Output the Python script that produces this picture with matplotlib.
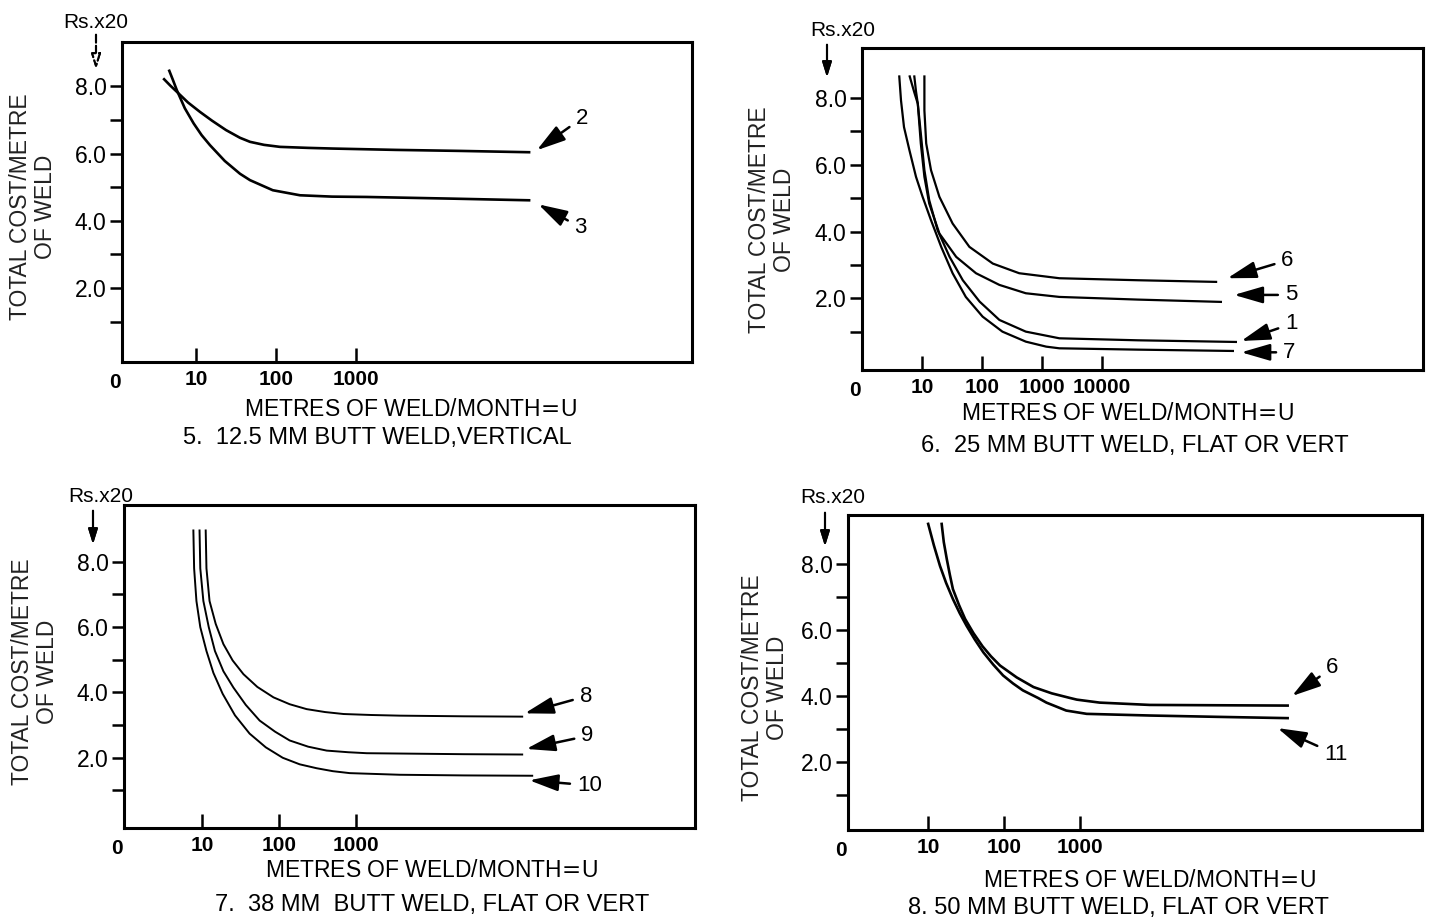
import numpy as np
import matplotlib.pyplot as plt

W, H = 1432, 922
plt.rcParams['font.family'] = ['Liberation Sans', 'DejaVu Sans']

# x = log10(metres of weld per month), y = total cost per metre (Rs x20)
# --- fig 5: 12.5 mm butt weld, vertical
f5_c2_x = [0.59, 0.68, 0.76, 0.9, 1.05, 1.2, 1.375, 1.55, 1.675, 1.85, 2.05, 2.4, 2.71, 3.5, 4.3, 5.18]
f5_c2_y = [8.24, 8.02, 7.84, 7.52, 7.24, 6.98, 6.70, 6.47, 6.35, 6.26, 6.20, 6.17, 6.15, 6.11, 6.08, 6.04]
f5_c3_x = [0.66, 0.71, 0.76, 0.86, 0.97, 1.07, 1.175, 1.36, 1.55, 1.675, 1.96, 2.3, 2.7, 3.13, 4.2, 5.18]
f5_c3_y = [8.5, 8.2, 7.89, 7.35, 6.9, 6.55, 6.25, 5.78, 5.4, 5.21, 4.91, 4.76, 4.72, 4.71, 4.66, 4.61]

# --- fig 6: 25 mm butt weld, flat or vert
f6_c7_x = [0.62, 0.65, 0.70, 0.79, 0.90, 1.01, 1.15, 1.32, 1.51, 1.73, 2.01, 2.34, 2.73, 3.07, 3.29, 4.6, 6.2]
f6_c7_y = [8.68, 7.93, 7.13, 6.44, 5.64, 5.04, 4.34, 3.54, 2.75, 2.04, 1.45, 1.0, 0.70, 0.55, 0.50, 0.46, 0.42]
f6_c1_x = [0.79, 0.87, 0.93, 0.98, 1.04, 1.12, 1.26, 1.46, 1.68, 1.96, 2.29, 2.73, 3.29, 4.6, 6.25]
f6_c1_y = [8.68, 8.18, 7.83, 6.94, 5.84, 4.94, 4.04, 3.24, 2.54, 1.90, 1.35, 1.0, 0.80, 0.74, 0.69]
f6_c5_x = [0.87, 0.90, 0.93, 0.98, 1.04, 1.12, 1.29, 1.57, 1.90, 2.29, 2.73, 3.29, 4.6, 6.0]
f6_c5_y = [8.68, 8.2, 7.83, 6.64, 5.64, 4.84, 3.94, 3.24, 2.75, 2.40, 2.15, 2.04, 1.96, 1.89]
f6_c6_x = [1.04, 1.04, 1.07, 1.15, 1.29, 1.51, 1.79, 2.18, 2.62, 3.29, 4.6, 5.92]
f6_c6_y = [8.68, 7.63, 6.64, 5.84, 5.04, 4.24, 3.54, 3.04, 2.75, 2.60, 2.54, 2.49]

# --- fig 7: 38 mm butt weld, flat or vert
f7_c8_x = [1.05, 1.06, 1.10, 1.18, 1.28, 1.40, 1.54, 1.72, 1.93, 2.14, 2.36, 2.6, 2.84, 3.2, 3.57, 4.4, 5.17]
f7_c8_y = [8.99, 7.8, 6.8, 6.1, 5.48, 4.98, 4.56, 4.17, 3.85, 3.64, 3.49, 3.40, 3.34, 3.31, 3.29, 3.27, 3.26]
f7_c9_x = [0.97, 0.98, 1.02, 1.09, 1.17, 1.28, 1.41, 1.57, 1.75, 1.95, 2.14, 2.38, 2.62, 2.9, 3.14, 3.57, 4.4, 5.17]
f7_c9_y = [8.99, 7.8, 6.8, 6.0, 5.27, 4.65, 4.15, 3.62, 3.14, 2.80, 2.53, 2.34, 2.22, 2.17, 2.14, 2.13, 2.11, 2.10]
f7_c10_x = [0.89, 0.90, 0.93, 0.98, 1.06, 1.15, 1.27, 1.43, 1.62, 1.83, 2.05, 2.27, 2.49, 2.7, 2.92, 3.57, 4.4, 5.30]
f7_c10_y = [8.99, 7.8, 6.8, 6.0, 5.27, 4.6, 3.96, 3.3, 2.74, 2.32, 2.0, 1.80, 1.68, 1.59, 1.53, 1.48, 1.46, 1.45]

# --- fig 8: 50 mm butt weld, flat or vert
f8_c11_x = [1.0, 1.08, 1.16, 1.24, 1.33, 1.42, 1.51, 1.62, 1.73, 1.86, 1.99, 2.12, 2.25, 2.45, 2.56, 2.82, 3.09, 3.92, 4.8, 5.75]
f8_c11_y = [9.24, 8.55, 7.93, 7.42, 6.93, 6.5, 6.12, 5.7, 5.32, 4.95, 4.62, 4.38, 4.17, 3.94, 3.8, 3.56, 3.46, 3.41, 3.37, 3.33]
f8_c6_x = [1.18, 1.21, 1.25, 1.29, 1.33, 1.41, 1.49, 1.6, 1.72, 1.83, 1.95, 2.17, 2.39, 2.63, 2.87, 2.96, 3.26, 3.92, 4.8, 5.75]
f8_c6_y = [9.24, 8.65, 8.13, 7.66, 7.23, 6.75, 6.33, 5.9, 5.5, 5.2, 4.92, 4.56, 4.27, 4.08, 3.94, 3.89, 3.80, 3.73, 3.72, 3.71]

xtick_vals = [1, 2, 3, 4]
xtick_labels = ['10', '100', '1000', '10000']
ytick_major = [2, 4, 6, 8]
ytick_minor = [1, 3, 5, 7]


def rect(l, t, r, b):
    return [l / W, 1 - b / H, (r - l) / W, (b - t) / H]


def fpt(x, y):
    return (x / W, 1 - y / H)


fig = plt.figure(figsize=(W / 100, H / 100), dpi=100)


def panel(box, xlim, ylim, nticks, lw_curve, curves, labels, texts):
    ax = fig.add_axes(rect(*box))
    for x, y in curves:
        ax.plot(x, y, color='black', lw=lw_curve, solid_capstyle='butt', solid_joinstyle='round')
    ax.set_xlim(*xlim)
    ax.set_ylim(*ylim)
    for s in ax.spines.values():
        s.set_linewidth(2.2)
    ax.set_yticks(ytick_major)
    ax.set_yticklabels(['%.1f' % v for v in ytick_major], fontsize=16.5)
    ax.set_yticks(ytick_minor, minor=True)
    ax.tick_params(axis='y', which='both', direction='out', length=9, width=1.8, pad=2)
    ax.set_xticks(xtick_vals[:nticks])
    ax.set_xticklabels(xtick_labels[:nticks], fontsize=15, fontweight='bold')
    ax.tick_params(axis='x', direction='in', length=10, width=1.8, pad=6)
    ax.text(-0.012, -0.035, '0', transform=ax.transAxes, ha='center', va='top',
            fontsize=15, fontweight='bold')
    for lab, tip, off in labels:
        ax.annotate(lab, xy=tip, xytext=off, textcoords='offset pixels',
                    ha='center', va='center', fontsize=16,
                    arrowprops=dict(arrowstyle='-|>,head_length=1.1,head_width=0.32',
                                    color='black', lw=1.8, shrinkA=3, shrinkB=0))
    (rs_xy, ar_from, ar_to, ylab_xy, xlab_xy, title_xy, title, hollow) = texts
    fig.text(*fpt(*rs_xy), 'Rs.x20', ha='center', va='center', fontsize=15)
    fig.add_artist(plt.annotate('', xy=fpt(*ar_to), xytext=fpt(*ar_from),
                                xycoords='figure fraction', textcoords='figure fraction',
                                arrowprops=dict(arrowstyle='-|>,head_length=0.9,head_width=0.28',
                                                fc='white' if hollow else 'black',
                                                ec='black', lw=1.5,
                                                ls='--' if hollow else '-')))
    fig.text(*fpt(*ylab_xy), 'TOTAL COST/METRE\nOF WELD', rotation=90, ha='center', va='center',
             fontsize=16.5, linespacing=1.1, color='#222222')
    fig.text(*fpt(*xlab_xy), 'METRES OF WELD/MONTH$\\!=\\!$U', ha='center', va='center',
             fontsize=16.5)
    fig.text(*fpt(*title_xy), title, ha='center', va='center', fontsize=17)
    return ax


panel((122, 42, 692, 362), (0.075, 7.2), (-0.2, 9.32), 3, 1.9,
      [(f5_c2_x, f5_c2_y), (f5_c3_x, f5_c3_y)],
      [('2', (5.26, 6.1), (45, 32)),
       ('3', (5.28, 4.49), (42, -23))],
      ((96, 22), (96, 32), (96, 72), (33, 207), (411, 410), (377, 438),
       '5.  12.5 MM BUTT WELD,VERTICAL', True))

panel((862, 48, 1423, 370), (0.0, 9.35), (-0.15, 9.5), 4, 1.6,
      [(f6_c7_x, f6_c7_y), (f6_c1_x, f6_c1_y), (f6_c5_x, f6_c5_y), (f6_c6_x, f6_c6_y)],
      [('6', (6.09, 2.6), (60, 18)),
       ('5', (6.2, 2.1), (57, 0)),
       ('1', (6.32, 0.72), (50, 17)),
       ('7', (6.32, 0.38), (48, 0))],
      ((843, 30), (827, 42), (827, 80), (772, 220), (1128, 413), (1135, 446),
       '6.  25 MM BUTT WELD, FLAT OR VERT', False))

panel((124, 505, 695, 828), (-0.01, 7.4), (-0.15, 9.74), 3, 1.4,
      [(f7_c8_x, f7_c8_y), (f7_c9_x, f7_c9_y), (f7_c10_x, f7_c10_y)],
      [('8', (5.19, 3.36), (61, 17)),
       ('9', (5.21, 2.27), (61, 13)),
       ('10', (5.25, 1.31), (60, -5))],
      ((101, 496), (93, 508), (93, 547), (35, 672), (432, 870), (432, 905),
       '7.  38 MM  BUTT WELD, FLAT OR VERT', False))

panel((848, 515, 1422, 830), (-0.05, 7.5), (-0.05, 9.47), 3, 1.9,
      [(f8_c11_x, f8_c11_y), (f8_c6_x, f8_c6_y)],
      [('6', (5.79, 4.0), (40, 28)),
       ('11', (5.6, 3.03), (58, -26))],
      ((833, 497), (825, 510), (825, 549), (765, 688), (1150, 880), (1118, 908),
       '8. 50 MM BUTT WELD, FLAT OR VERT', False))

fig.savefig('out.png', dpi=100)
